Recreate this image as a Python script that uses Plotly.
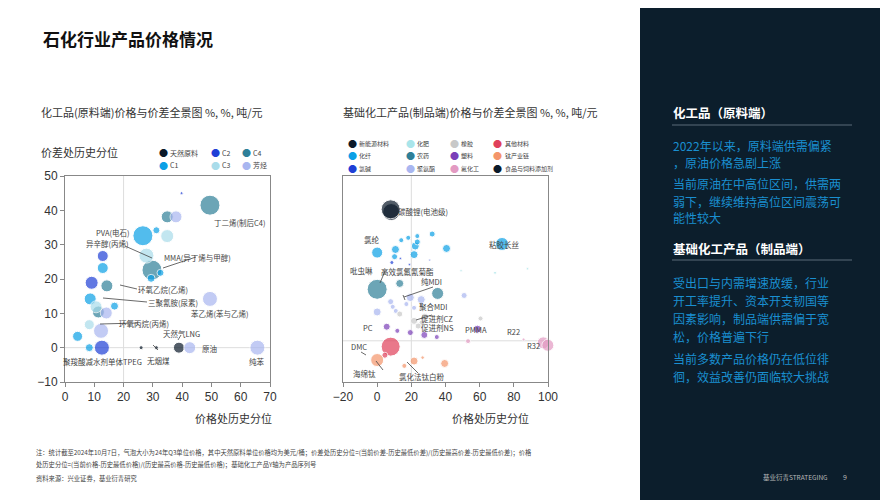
import plotly.graph_objects as go

W, H = 880, 492
OFF = 8
def px(x, y):
    return (x - OFF) / W, 1 - (y - OFF) / H
def dx_(a, b):
    return [(a - OFF) / W, (b - OFF) / W]
def dy_(top, bot):
    return [1 - (bot - OFF) / H, 1 - (top - OFF) / H]

FONT = "Noto Sans CJK SC"
COL = {"天然原料": "#0b1a2a", "C2": "#1f3fd6", "C4": "#2e7f98", "C1": "#0aa0e6", "C3": "#a9dcea", "芳烃": "#a9b6f0",
       "新能源材料": "#0b1a2a", "化肥": "#a9e5ea", "橡胶": "#c8c8c8", "其他材料": "#e0405a", "化纤": "#0aa0e6",
       "农药": "#2e7f98", "塑料": "#7b3fb8", "钛产业链": "#f4956a", "氯碱": "#1f3fd6", "聚氨酯": "#a9b6f0",
       "氟化工": "#e39ac2", "食品与饲料添加剂": "#0b1a2a"}

# Left chart: (x, y, diameter)
left_data = {
    "天然原料": ([26, 31.2, 38.9], [0, 0, 0], [4, 4, 11]),
    "C4": ([49.5, 34.9, 29.7, 14.3, 11.4], [41.5, 38.1, 22.6, 18, 10.4], [20, 12, 20, 12, 12]),
    "C2": ([39.8, 12.9, 9.1, 12.6], [45, 26.7, 18.9, 0], [3, 11, 13, 15]),
    "C1": ([26.6, 31.2, 12.9, 29.4, 32.6, 8.6, 16.9, 4.3, 8.3], [32.6, 34.2, 23.2, 20.2, 21.8, 14.2, 12.1, 3.3, 0],
           [20, 7, 11, 8, 7, 12, 8, 10, 8]),
    "C3": ([27.8, 34.9, 10.6, 8.3], [26.8, 32.5, 11.9, 6.7], [15, 13, 12, 10]),
    "芳烃": ([37.9, 49.5, 12.3, 14.1, 42.6, 65.7], [38.1, 14.2, 4.9, 10.1, 0, 0], [12, 15, 15, 12, 12, 15]),
}
right_data = {
    "新能源材料": ([8.2, 7.9], [37.5, 38.3], [17, 19]),
    "化纤": ([73.1, 0, 10.7, 10.2, 21.6, 22.3, 23.5, 23.5, 18.2, 14.1, 32.2, 40.6],
           [28.2, 25.7, 26.6, 24.5, 25.1, 27.6, 28.8, 30.5, 30, 29.3, 31.1, 26.9],
           [13, 11, 8, 6, 8, 8, 6, 5, 5, 5, 6, 8]),
    "氯碱": ([8.6, 13.6, 18.9, 30.8], [22.8, 24, 22.2, 23.5], [4, 2.5, 2.5, 2]),
    "化肥": ([49.1, 69, 88], [20.4, 19.8, 21], [2.5, 3, 2.5]),
    "农药": ([0, 13.2, 35.4], [15, 16.7, 13.8], [20, 8, 12]),
    "聚氨酯": ([19.4, 25.8, 50.9, 7.9, 17.1, 9.1, 21.6, 10.9, 0], [12.6, 12, 13.2, 11.4, 10.7, 9.9, 9.6, 8.7, 8.4],
            [8, 8, 6, 6, 5, 5, 5, 5, 8]),
    "橡胶": ([13.2, 27.8, 21.6, 26.2, 24, 60.5], [7.8, 7, 5.8, 5.2, 4.3, 6.5], [6, 7, 7, 6, 6, 5]),
    "塑料": ([5.6, 58.7, 11.8, 19.4, 27.6, 34.9], [4.1, 3.4, 2.9, 2.4, 1.7, 1.1], [7, 8, 5, 6, 7, 5]),
    "氟化工": ([97.2, 99.9, 85.7, 53.2], [-0.6, -1.3, 0.4, -0.1], [12, 12, 3, 5]),
    "其他材料": ([7.9, 4.5], [-1.7, -4.2], [19, 6]),
    "钛产业链": ([0, 21.6, 26.6, 39.5, 15.9], [-5.6, -5.9, -4.9, -6.6, -7.3], [13, 8, 3.5, 8, 5]),
}
left_ticks_x = [0, 10, 20, 30, 40, 50, 60, 70]
left_ticks_y = [-10, 0, 10, 20, 30, 40, 50]
right_ticks_x = [-20, 0, 20, 40, 60, 80, 100]

fig = go.Figure()
for k, (xs, ys, ss) in left_data.items():
    fig.add_trace(go.Scatter(x=xs, y=ys, mode="markers", xaxis="x", yaxis="y", cliponaxis=False,
                             marker=dict(size=ss, color=COL[k], line=dict(color="white", width=1)), hoverinfo="skip"))
for k, (xs, ys, ss) in right_data.items():
    fig.add_trace(go.Scatter(x=xs, y=ys, mode="markers", xaxis="x2", yaxis="y2", cliponaxis=False,
                             marker=dict(size=ss, color=COL[k], line=dict(color="white", width=1)), hoverinfo="skip"))

ax_common = dict(showgrid=False, zeroline=False, showline=True, linecolor="#888", mirror=True, automargin=False,
                 ticks="outside", ticklen=4, tickcolor="#888", tickfont=dict(size=12, color="#333", family="Arial"))
fig.update_layout(
    width=W, height=H, margin=dict(l=0, r=0, t=0, b=0, autoexpand=False), showlegend=False,
    plot_bgcolor="white", paper_bgcolor="white", font=dict(family=FONT),
    xaxis=dict(domain=dx_(65, 270), range=[0, 70], tickvals=left_ticks_x, anchor="y", **ax_common),
    yaxis=dict(domain=dy_(176, 382), range=[-10, 50], tickvals=left_ticks_y, anchor="x", **ax_common),
    xaxis2=dict(domain=dx_(343, 548), range=[-20, 100], tickvals=right_ticks_x, anchor="y2", **ax_common),
    yaxis2=dict(domain=dy_(176, 382), range=[-12, 48], showticklabels=False, ticks="", anchor="x2",
                automargin=False, showgrid=False, zeroline=False, showline=True, linecolor="#888", mirror=True),
)
def pline(x0, y0, x1, y1, color, width=1):
    a, b = px(x0, y0); c, d = px(x1, y1)
    return dict(type="line", xref="paper", yref="paper", x0=a, y0=b, x1=c, y1=d, line=dict(color=color, width=width))

r0, r1 = px(640, 0)
shapes = [
    dict(type="line", xref="x", yref="y", x0=20, x1=20, y0=-10, y1=50, line=dict(color="#ddd", width=1), layer="below"),
    dict(type="line", xref="x", yref="y", x0=0, x1=70, y0=0, y1=0, line=dict(color="#ddd", width=1), layer="below"),
    dict(type="line", xref="x2", yref="y2", x0=20, x1=20, y0=-12, y1=48, line=dict(color="#ddd", width=1), layer="below"),
    dict(type="line", xref="x2", yref="y2", x0=-20, x1=100, y0=0, y1=0, line=dict(color="#ddd", width=1), layer="below"),
    dict(type="rect", xref="paper", yref="paper", x0=r0, x1=1.02, y0=-0.02, y1=1.02, fillcolor="#0c1e2c", line=dict(width=0), layer="below"),
    pline(672, 125, 852, 125, "#5a6a78"),
    pline(672, 260, 852, 260, "#5a6a78"),
]
for (x0, y0, x1, y1) in [(125, 246, 152, 258), (196, 257, 163, 268), (137, 289, 120, 285), (147, 302, 103, 298),
                         (138, 323, 100, 324), (153, 345, 158, 350), (405, 300, 403, 295), (432, 315, 416, 320),
                         (433, 287, 404, 297), (361, 352, 366, 355), (383, 370, 376, 361), (418, 373, 407, 362),
                         (385, 271, 380, 283), (181, 335, 178, 340)]:
    shapes.append(pline(x0, y0, x1, y1, "#444", 0.8))
fig.update_layout(shapes=shapes)

ann = []
def T(x, y, t, size=9, color="#444", anchor="left", bold=False):
    a, b = px(x, y)
    ann.append(dict(x=a, y=b, xref="paper", yref="paper", text=f"<b>{t}</b>" if bold else t, showarrow=False,
                    xanchor=anchor, yanchor="middle", borderpad=0, font=dict(size=size, color=color, family=FONT)))

T(42, 38, "石化行业产品价格情况", 17, "#111", bold=True)
T(40, 112, "化工品(原料端)价格与价差全景图 %, %, 吨/元", 11, "#333")
T(342, 112, "基础化工产品(制品端)价格与价差全景图 %, %, 吨/元", 11, "#333")
T(40, 152, "价差处历史分位", 11, "#333")
T(233, 418, "价格处历史分位", 11, "#333", "center")
T(490, 418, "价格处历史分位", 11, "#333", "center")

for name, dx, dy in [("天然原料", 163, 153), ("C2", 215, 153), ("C4", 246, 153), ("C1", 163, 165), ("C3", 215, 165), ("芳烃", 246, 165)]:
    T(dx, dy, "●", 9, COL[name], "center")
    T(dx + 6, dy, name, 7, "#444")
for i, name in enumerate(["新能源材料", "化肥", "橡胶", "其他材料", "化纤", "农药", "塑料", "钛产业链", "氯碱", "聚氨酯", "氟化工", "食品与饲料添加剂"]):
    r, c = divmod(i, 4)
    dx = [352, 410, 454, 498][c]; dy = [143, 155, 168][r]
    T(dx, dy, "●", 9, COL[name], "center")
    T(dx + 6, dy, name, 6, "#444")

for x, y, t in [(213, 222, "丁二烯(制后C4)"), (95, 232, "PVA(电石)"), (85, 243, "异辛醇(丙烯)"), (163, 257, "MMA(异丁烯与甲醇)"),
                (137, 289, "环氧乙烷(乙烯)"), (147, 302, "三聚氰胺(尿素)"), (190, 313, "苯乙烯(苯与乙烯)"), (118, 323, "环氧丙烷(丙烯)"),
                (162, 333, "天然气LNG"), (201, 348, "原油"), (146, 360, "无烟煤"), (62, 361, "聚羧酸减水剂单体TPEG"), (248, 361, "纯苯"),
                (397, 211, "碳酸锂(电池级)"), (363, 239, "氯纶"), (488, 244, "粘胶长丝"), (349, 270, "吡虫啉"), (380, 271, "高效氯氟氰菊酯"),
                (420, 281, "纯MDI"), (418, 306, "聚合MDI"), (420, 318, "促进剂CZ"), (420, 327, "促进剂NS"), (362, 327, "PC"),
                (464, 329, "PMMA"), (506, 331, "R22"), (526, 345, "R32"), (350, 346, "DMC"), (352, 373, "海绵钛"), (398, 376, "氯化法钛白粉")]:
    T(x, y, t, 7.5, "#444")

T(35, 452, "注：统计截至2024年10月7日，气泡大小为24年Q3单位价格，其中天然原料单位价格均为美元/桶；价差处历史分位=(当前价差-历史最低价差)/(历史最高价差-历史最低价差)；价格", 6.3, "#444")
T(35, 464, "处历史分位=(当前价格-历史最低价格)/(历史最高价格-历史最低价格)；基础化工产品Y轴为产品序列号", 6.3, "#444")
T(35, 478, "资料来源：兴业证券，基业衍青研究", 6.3, "#444")
T(762, 477, "基业衍青STRATEGING", 6.5, "#bbb")
T(842, 477, "9", 7, "#bbb")

T(672, 113, "化工品（原料端）", 12.5, "white", bold=True)
T(672, 248, "基础化工产品（制品端）", 12.5, "white", bold=True)
BL = "#1a8fd0"
for y, t in [(145, "2022年以来，原料端供需偏紧"), (162, "，原油价格急剧上涨"), (184, "当前原油在中高位区间，供需两"),
             (201, "弱下，继续维持高位区间震荡可"), (218, "能性较大"), (282, "受出口与内需增速放缓，行业"),
             (300, "开工率提升、资本开支韧国等"), (318, "因素影响，制品端供需偏于宽"), (336, "松，价格普遍下行"),
             (358, "当前多数产品价格仍在低位徘"), (376, "徊，效益改善仍面临较大挑战")]:
    T(672, y, t, 12, BL)
fig.update_layout(annotations=ann)
fig.write_html("out.html")
